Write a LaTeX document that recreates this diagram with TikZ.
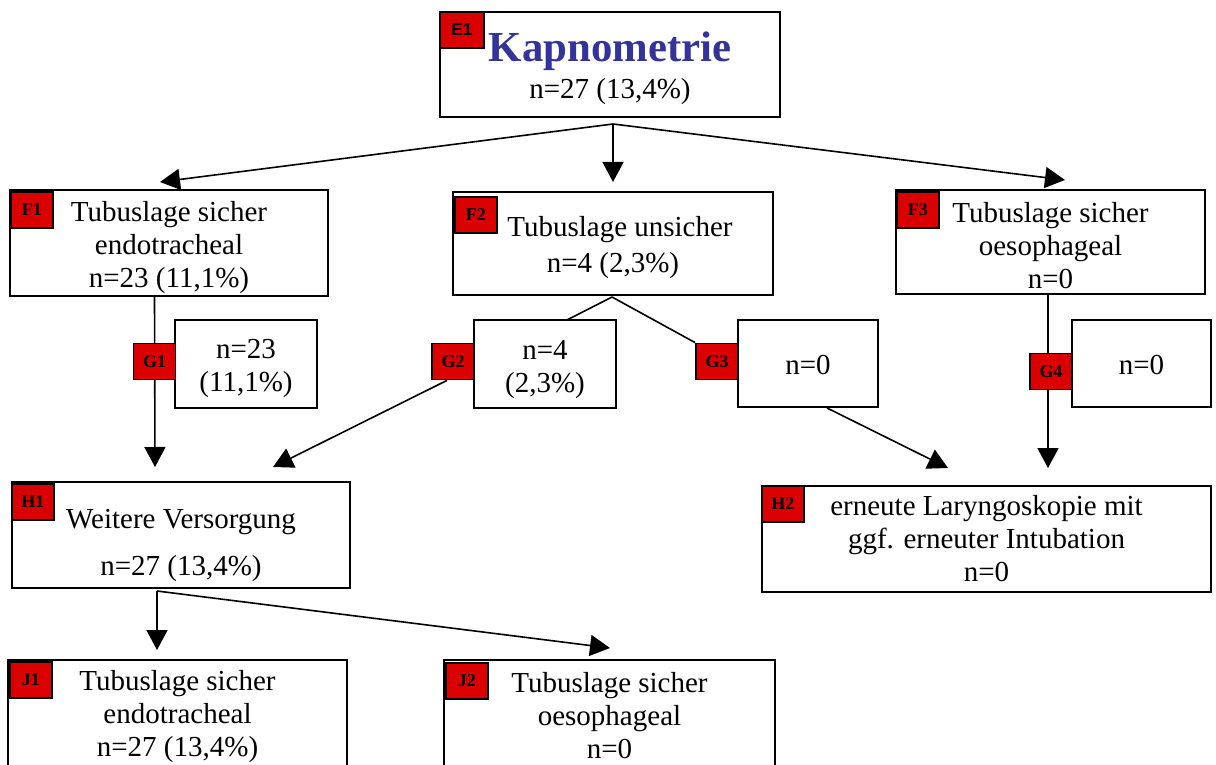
\documentclass[tikz,border=0pt]{standalone}
\usepackage{fontspec}
\setmainfont{Liberation Serif}
\newfontfamily\tagsans{Liberation Sans}
\usetikzlibrary{arrows.meta,backgrounds,calc}
\definecolor{tagred}{RGB}{218,0,0}
\definecolor{titleblue}{RGB}{51,51,153}
\newcommand{\padtop}[1]{\rule{0pt}{#1}}
\tikzset{
    box/.style={draw=black, line width=1pt, fill=white, align=center, inner sep=0pt,
        font=\fontsize{14.5}{16.5}\selectfont},
    tag/.style={draw=black, line width=0.9pt, fill=tagred, inner sep=0pt,
        minimum width=21pt, minimum height=18pt, font=\fontsize{9}{10}\selectfont\bfseries},
    link/.style={line width=0.8pt, -{Triangle[length=10pt,width=10.5pt]}},
    edge/.style={line width=0.8pt}
}

\begin{document}
\begin{tikzpicture}[x=0.5pt, y=-0.5pt]
    \useasboundingbox (0,0) rectangle (1216,765);

    % Kapnometrie
    \node[box, minimum width=170pt, minimum height=52.5pt] (E1) at (610,64.5) {
        \padtop{18.5pt}{\fontsize{21.4}{24}\selectfont\bfseries\color{titleblue}Kapnometrie}\\[2pt]
        n=27 (13,4\%)};
    \node[tag, minimum width=22pt, font=\fontsize{8.6}{9}\selectfont\tagsans\bfseries,
        anchor=north west] (E1tag) at (E1.north west) {E1};

    % Tubuslage
    \node[box, minimum width=159pt, minimum height=53pt] (F1) at (169,243)
        {\padtop{15pt}Tubuslage sicher\\endotracheal\\n=23 (11,1\%)};
    \node[box, minimum width=160pt, minimum height=51.5pt] (F2) at (613,243.5)
        {\padtop{14pt}\hspace*{7pt}Tubuslage unsicher\\[1.5pt]n=4 (2,3\%)};
    \node[box, minimum width=154.5pt, minimum height=52pt] (F3) at (1050.5,242)
        {\padtop{14pt}Tubuslage sicher\\oesophageal\\n=0};
    \node[tag, anchor=north west] (F1tag) at ($(F1.north west)+(1,2)$) {F1};
    \node[tag, anchor=north west] (F2tag) at ($(F2.north west)+(2,5)$) {F2};
    \node[tag, anchor=north west] (F3tag) at ($(F3.north west)+(1,2)$) {F3};

    % Zwischenschritte
    \node[box, minimum width=71pt, minimum height=44pt] (G1) at (246,364) {\padtop{14pt}n=23\\(11,1\%)};
    \node[box, minimum width=71pt, minimum height=44pt] (G2) at (545,364) {\padtop{15pt}n=4\\(2,3\%)};
    \node[box, minimum width=70pt, minimum height=43.5pt] (G3) at (808,363.5) {\padtop{11pt}n=0};
    \node[box, minimum width=69.5pt, minimum height=43.5pt] (G4) at (1141.5,363.5) {\padtop{11pt}n=0};
    \node[tag] (G1tag) at (154.5,361.5) {G1};
    \node[tag] (G2tag) at (453,361.5) {G2};
    \node[tag] (G3tag) at (717,361.5) {G3};
    \node[tag] (G4tag) at (1051,371.5) {G4};

    % Weitere Schritte
    \node[box, minimum width=169pt, minimum height=53pt] (H1) at (181,535)
        {\padtop{20pt}Weitere Versorgung\\[7pt]n=27 (13,4\%)};
    \node[box, minimum width=224.5pt, minimum height=53pt] (H2) at (986.5,539)
        {erneute Laryngoskopie mit\\ggf. erneuter Intubation\\n=0};
    \node[tag, anchor=north west] (H1tag) at ($(H1.north west)+(0,2)$) {H1};
    \node[tag, anchor=north west] (H2tag) at (H2.north west) {H2};

    \node[box, minimum width=169.5pt, minimum height=54pt] (J1) at (177.5,714)
        {\padtop{13pt}Tubuslage sicher\\endotracheal\\n=27 (13,4\%)};
    \node[box, minimum width=165.5pt, minimum height=54pt] (J2) at (609.5,714)
        {\padtop{12pt}Tubuslage sicher\\oesophageal\\n=0};
    \node[tag, anchor=north west] (J1tag) at ($(J1.north west)+(2,2)$) {J1};
    \node[tag, anchor=north west] (J2tag) at ($(J2.north west)+(2,3)$) {J2};

    % Verbindungen
    \coordinate (E1fan) at (613,124);
    \coordinate (F1in) at (160,182);
    \coordinate (F2in) at (613,182);
    \coordinate (F3in) at (1065,180);
    \coordinate (F2fan) at (612,297);
    \coordinate (G2top) at (567,320);
    \coordinate (H1in) at (155,467);
    \coordinate (H1side) at (273,467);
    \coordinate (H2side) at (948,468);
    \coordinate (H2in) at (1048,468);
    \coordinate (H1fan) at (157,591);
    \coordinate (J1in) at (157,650);
    \coordinate (J2in) at (610,648);

    \begin{pgfonlayer}{background}
        \draw[link] (E1fan) -- (F1in);
        \draw[link] (E1fan) -- (F2in);
        \draw[link] (E1fan) -- (F3in);
        \draw[edge] (F2fan) -- (G2top);
        \draw[edge] (F2fan) -- (G3tag.north west);
        \draw[link] (G1tag |- F1.south) -- (H1in);
        \draw[link] ($(G2tag.south)+(-6,0)$) -- (H1side);
        \draw[link] ($(G3.south)+(19,0)$) -- (H2side);
        \draw[link] (H2in |- F3.south) -- (H2in);
        \draw[link] (H1fan) -- (J1in);
        \draw[link] (H1fan) -- (J2in);
    \end{pgfonlayer}
\end{tikzpicture}
\end{document}
